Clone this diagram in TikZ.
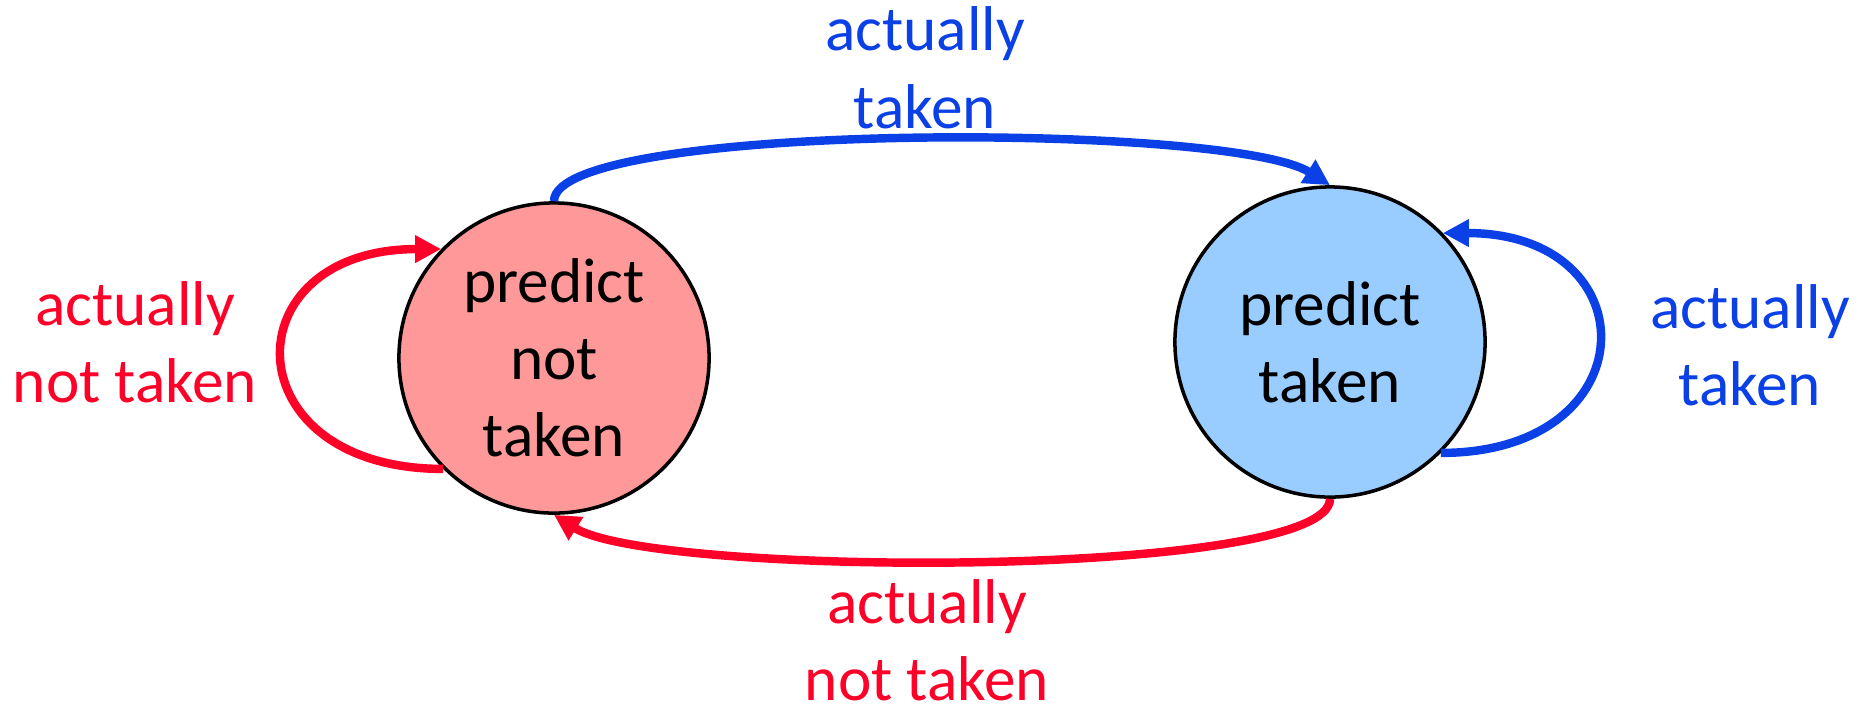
\documentclass[tikz,border=0pt]{standalone}
\usepackage{fontspec}
\setmainfont{Carlito}
\usetikzlibrary{arrows.meta}
\definecolor{arcred}{RGB}{255,0,41}
\definecolor{arcblue}{RGB}{10,64,230}
\definecolor{pinkfill}{RGB}{255,153,153}
\definecolor{bluefill}{RGB}{153,204,255}
\begin{document}
\begin{tikzpicture}[x=0.01cm,y=-0.01cm,
  txt/.style={font=\fontsize{18}{21.9}\selectfont, align=center},
  state/.style={circle, draw=black, line width=1pt, minimum size=3.1cm, inner sep=0pt, txt},
  arc/.style={line width=2.4pt, -{Triangle[length=2.6mm,width=2.6mm]}},
  lbl/.style={txt, anchor=base, inner sep=0pt}
]
\useasboundingbox (0,0) rectangle (1867,711);
\node[state, fill=pinkfill] (L) at (554,358) {predict\\not\\taken};
\node[state, fill=bluefill] (R) at (1330,342) {predict\\taken};
\draw[arc, arcblue] (L.north) .. controls +(0,-80) and +(-100,-63) .. (R.north);
\draw[arc, arcred] (R.south) .. controls +(0,80) and +(100,63) .. (L.south);
\draw[arc, arcred] (L.225) .. controls +(-212,0) and +(-212,0) .. (L.136);
\draw[arc, arcblue] (R.-45) .. controls +(208,0) and +(208,0) .. (R.44);
\node[lbl, text=arcred] (lblL) at (135,402) {actually\\not taken};
\node[lbl, text=arcblue] (lblR) at (1750,405) {actually\\taken};
\node[lbl, text=arcblue] (lblT) at (925,128) {actually\\taken};
\node[lbl, text=arcred] (lblB) at (927,700) {actually\\not taken};
\end{tikzpicture}
\end{document}
